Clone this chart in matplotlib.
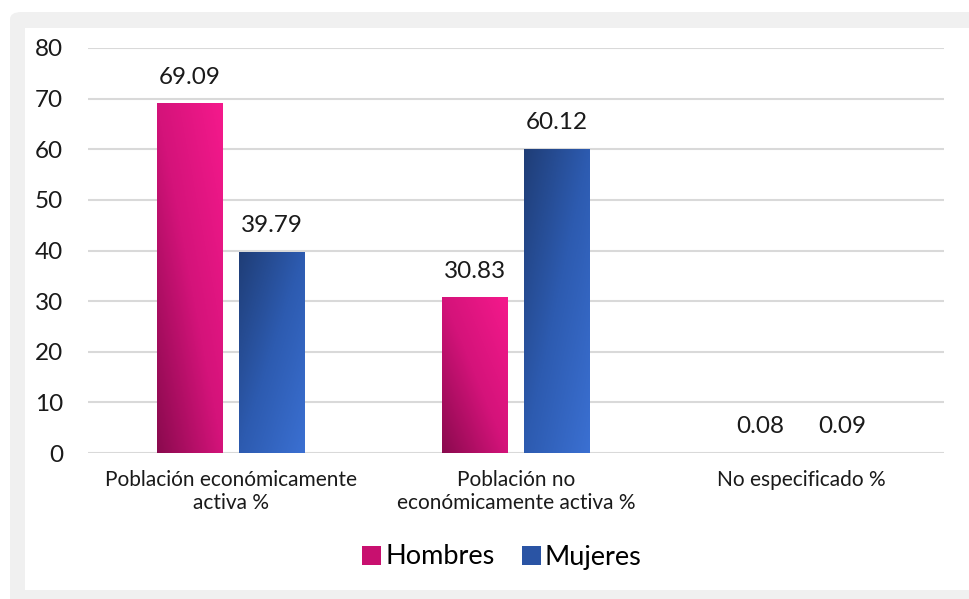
import numpy as np
import matplotlib
matplotlib.use('Agg')
import matplotlib.pyplot as plt
from matplotlib.colors import LinearSegmentedColormap
from matplotlib.patches import Rectangle, FancyBboxPatch, Patch

categories = ['Población económicamente\nactiva %', 'Población no\neconómicamente activa %', 'No especificado %']
hombres = [69.09, 30.83, 0.08]
mujeres = [39.79, 60.12, 0.09]
series_names = ['Hombres', 'Mujeres']
yticks = [0, 10, 20, 30, 40, 50, 60, 70, 80]

plt.rcParams['font.family'] = ['Lato', 'DejaVu Sans']

pink_cmap = LinearSegmentedColormap.from_list('pink', ['#8a0a4e', '#d4137a', '#f5198c'])
blue_cmap = LinearSegmentedColormap.from_list('blue', ['#1f3d76', '#2d5bb0', '#3b70d2'])

fig = plt.figure(figsize=(9.69, 5.99), dpi=100, facecolor='white')

# panel background (grey frame + white card)
fig.patches.append(FancyBboxPatch((10 / 969, 1 - 620 / 599), 1.2, 608 / 599, boxstyle='round,pad=0,rounding_size=0.012',
                                  transform=fig.transFigure, facecolor='#f0f0f0', edgecolor='none', zorder=-3))
fig.patches.append(Rectangle((25 / 969, 1 - 590 / 599), 1.0, 562 / 599, transform=fig.transFigure,
                             facecolor='white', edgecolor='none', zorder=-2))

ax = fig.add_axes([88 / 969, 1 - 453 / 599, 856 / 969, 405 / 599])
ax.set_facecolor('none')

x = np.arange(len(categories))
w = 0.23
gap = 0.056

bars_h = ax.bar(x - (w + gap) / 2, hombres, w, color='none', edgecolor='none', zorder=3)
bars_m = ax.bar(x + (w + gap) / 2, mujeres, w, color='none', edgecolor='none', zorder=3)

u, v = np.meshgrid(np.linspace(0, 1, 64), np.linspace(0, 1, 256))


def fill_gradient(bars, cmap, grad):
    for b in bars:
        x0, y0 = b.get_x(), b.get_y()
        im = ax.imshow(grad, cmap=cmap, vmin=0, vmax=1, origin='lower', aspect='auto',
                       extent=[x0, x0 + b.get_width(), y0, y0 + b.get_height()], zorder=3)
        im.set_clip_path(b)


fill_gradient(bars_h, pink_cmap, (u + v) / 2)
fill_gradient(bars_m, blue_cmap, (u + (1 - v)) / 2)

for bars, vals in [(bars_h, hombres), (bars_m, mujeres)]:
    for b, val in zip(bars, vals):
        ax.annotate(f'{val:.2f}', (b.get_x() + b.get_width() / 2, val), xytext=(0, 11),
                    textcoords='offset points', ha='center', va='bottom', fontsize=17.5, color='#1a1a1a')

ax.set_xlim(-0.5, len(categories) - 0.5)
ax.set_ylim(0, 80)
ax.set_yticks(yticks)
ax.set_xticks(x)
ax.set_xticklabels(categories, fontsize=15, color='#1a1a1a', linespacing=1.2)
ax.tick_params(axis='y', length=0, pad=18, labelsize=17.5, labelcolor='#1a1a1a')
ax.tick_params(axis='x', length=0, pad=12)
ax.grid(axis='y', color='#d9d9d9', linewidth=1.5, zorder=0)
ax.set_axisbelow(True)
for s in ax.spines.values():
    s.set_visible(False)

handles = [Patch(facecolor='#c8106f', edgecolor='none'), Patch(facecolor='#2a54a4', edgecolor='none')]
fig.legend(handles, series_names, loc='center', bbox_to_anchor=(0.518, 1 - 557 / 599), ncol=2, frameon=False,
           fontsize=19.5, handlelength=0.7, handleheight=0.7, handletextpad=0.15, columnspacing=1.0)

fig.savefig('out.png', dpi=100, facecolor=fig.get_facecolor())
